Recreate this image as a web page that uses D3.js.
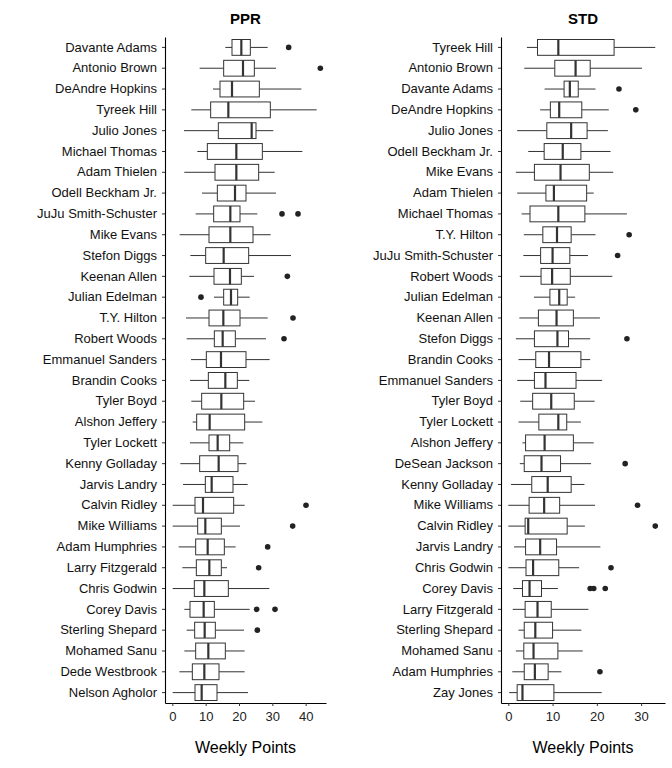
<!DOCTYPE html>
<html><head><meta charset="utf-8">
<script src="https://cdn.jsdelivr.net/npm/d3@7"></script>
<style>body{margin:0;background:#fff}text{font-family:"Liberation Sans",Arial,sans-serif}</style>
</head><body><svg id="c" width="672" height="768"></svg>
<script>
// [name, min whisker, q1, median, q3, max whisker, outliers]
const pprPlayers = ["Davante Adams","Antonio Brown","DeAndre Hopkins","Tyreek Hill","Julio Jones","Michael Thomas","Adam Thielen","Odell Beckham Jr.","JuJu Smith-Schuster","Mike Evans","Stefon Diggs","Keenan Allen","Julian Edelman","T.Y. Hilton","Robert Woods","Emmanuel Sanders","Brandin Cooks","Tyler Boyd","Alshon Jeffery","Tyler Lockett","Kenny Golladay","Jarvis Landry","Calvin Ridley","Mike Williams","Adam Humphries","Larry Fitzgerald","Chris Godwin","Corey Davis","Sterling Shepard","Mohamed Sanu","Dede Westbrook","Nelson Agholor"];
const pprStats = [
[15.9,17.9,20.7,23.4,28.6],[8.2,15.4,21.2,24.6,31.1],[12.2,14.3,17.9,26.1,38.7],[5.7,11.5,16.8,29.4,43.3],
[3.5,13.8,23.8,25.1,30.3],[7.5,10.5,19.2,27.0,39.0],[3.6,12.8,19.2,25.9,30.7],[8.9,13.5,18.8,22.1,31.1],
[7.0,12.4,17.4,20.3,25.5],[2.2,11.0,17.4,24.2,29.5],[5.4,10.0,15.4,22.9,35.6],[5.1,12.5,17.3,20.7,24.5],
[12.5,15.4,17.6,19.6,23.2],[4.1,11.0,15.3,20.3,28.6],[4.3,12.6,15.1,18.9,28.1],[5.6,10.2,14.6,22.1,29.2],
[5.3,10.8,15.9,19.5,23.1],[5.7,8.8,14.7,21.4,24.8],[6.1,7.3,11.2,21.7,27.0],[5.3,11.0,13.6,17.2,21.3],
[2.4,8.2,13.9,19.7,22.2],[3.2,9.9,11.8,18.2,22.6],[0.1,6.8,9.2,18.4,21.7],[0.1,7.6,9.9,14.7,20.3],
[1.9,7.0,10.6,15.6,19.0],[3.0,7.2,11.1,14.7,16.4],[0.1,6.6,9.6,16.8,29.1],[3.6,5.3,9.4,12.6,23.2],
[4.3,6.7,9.7,12.9,21.5],[3.6,7.0,10.8,15.9,21.7],[2.1,6.0,9.6,14.0,21.7],[0.1,6.8,8.8,13.4,22.7]];
const pprOutliers = [[34.9],[44.4],[],[],[],[],[],[],[32.9,37.7],[],[],[34.5],[8.6],[36.2],[33.5],[],[],[],[],[],[],[],[40.1],[36.1],[28.6],[25.9],[],[25.3,30.8],[25.5],[],[],[]];

const stdPlayers = ["Tyreek Hill","Antonio Brown","Davante Adams","DeAndre Hopkins","Julio Jones","Odell Beckham Jr.","Mike Evans","Adam Thielen","Michael Thomas","T.Y. Hilton","JuJu Smith-Schuster","Robert Woods","Julian Edelman","Keenan Allen","Stefon Diggs","Brandin Cooks","Emmanuel Sanders","Tyler Boyd","Tyler Lockett","Alshon Jeffery","DeSean Jackson","Kenny Golladay","Mike Williams","Calvin Ridley","Jarvis Landry","Chris Godwin","Corey Davis","Larry Fitzgerald","Sterling Shepard","Mohamed Sanu","Adam Humphries","Zay Jones"];
const stdStats = [
[4.2,6.6,11.3,23.9,33.2],[3.6,10.5,15.2,18.5,30.2],[8.2,12.6,13.9,15.8,19.7],[7.2,9.5,11.5,16.6,22.7],
[2.0,8.7,14.2,17.8,22.5],[4.5,8.1,12.3,16.4,23.1],[1.7,5.9,11.8,18.3,23.7],[2.0,8.5,10.3,17.7,19.3],
[3.0,4.9,11.3,17.3,26.8],[3.5,7.8,11.0,14.2,19.7],[3.4,7.3,10.0,13.9,18.0],[2.6,7.4,9.9,14.0,23.5],
[5.8,9.4,11.5,13.3,15.1],[2.5,6.8,10.9,14.7,20.7],[1.7,5.9,11.1,13.6,18.5],[2.3,6.2,9.2,16.4,18.5],
[2.0,5.9,8.4,15.3,21.2],[2.7,5.5,9.7,14.9,19.5],[2.3,6.9,11.3,13.2,16.4],[3.2,3.9,8.2,14.7,19.3],
[2.6,3.6,7.5,11.8,18.7],[0.6,5.3,8.9,14.2,17.2],[0.0,4.7,8.1,11.6,19.6],[0.0,3.8,4.5,13.3,17.3],
[1.3,3.9,7.2,10.9,20.8],[0.0,4.0,5.6,11.4,16.0],[1.1,3.2,4.8,7.5,11.2],[1.0,3.8,6.6,9.7,18.1],
[2.3,3.6,6.1,10.0,16.5],[1.7,3.5,5.7,11.2,16.8],[0.9,3.6,6.0,9.0,12.0],[0.2,2.0,3.2,10.3,21.1]];
const stdOutliers = [[],[],[25.0],[28.8],[],[],[],[],[],[27.3],[24.7],[],[],[],[26.8],[],[],[],[],[],[26.4],[],[29.2],[33.2],[],[23.2],[18.5,19.3,21.9],[],[],[],[20.7],[]];

const xTicks = {ppr:[0,10,20,30,40], std:[0,10,20,30]};

const svg = d3.select("#c");
function panel(title, players, stats, outs, x0, x1, domain, ticks){
  const x = d3.scaleLinear().domain(domain).range([x0,x1]);
  const y = d3.scaleBand().domain(players).range([37,703]).paddingInner(0.24).paddingOuter(0.12);
  const g = svg.append("g");
  g.append("g").attr("transform",`translate(${x0},0)`).call(d3.axisLeft(y).tickSize(3).tickSizeOuter(0))
    .call(a=>{a.select(".domain").attr("stroke","#000").attr("stroke-width",1.1);a.selectAll("text").attr("font-size",13).attr("fill","#111").attr("dx",-2);a.selectAll("line").attr("stroke","#333");});
  g.append("g").attr("transform",`translate(0,703)`).call(d3.axisBottom(x).tickValues(ticks).tickSize(3).tickSizeOuter(0))
    .call(a=>{a.select(".domain").attr("stroke","#000").attr("stroke-width",1.1);a.selectAll("text").attr("font-size",13).attr("fill","#222").attr("dy","0.9em");a.selectAll("line").attr("stroke","#333");});
  g.append("text").attr("x",(x0+x1)/2).attr("y",24).attr("text-anchor","middle").attr("font-weight","bold").attr("font-size",15).text(title);
  g.append("text").attr("x",(x0+x1)/2).attr("y",753).attr("text-anchor","middle").attr("font-size",16).text("Weekly Points");
  players.forEach((p,i)=>{
    const s = stats[i], yc = y(p)+y.bandwidth()/2, h=y.bandwidth();
    const row = g.append("g").attr("stroke","#333").attr("stroke-width",1);
    row.append("line").attr("x1",x(s[0])).attr("x2",x(s[1])).attr("y1",yc).attr("y2",yc);
    row.append("line").attr("x1",x(s[3])).attr("x2",x(s[4])).attr("y1",yc).attr("y2",yc);
    row.append("rect").attr("x",x(s[1])).attr("width",x(s[3])-x(s[1])).attr("y",y(p)).attr("height",h).attr("fill","#fff");
    row.append("line").attr("x1",x(s[2])).attr("x2",x(s[2])).attr("y1",y(p)).attr("y2",y(p)+h).attr("stroke-width",2.2);
    outs[i].forEach(o=>g.append("circle").attr("cx",x(o)).attr("cy",yc).attr("r",2.8).attr("fill","#222"));
  });
}
panel("PPR", pprPlayers, pprStats, pprOutliers, 165, 326, [-2.2,46.1], xTicks.ppr);
panel("STD", stdPlayers, stdStats, stdOutliers, 501, 665, [-1.65,35.4], xTicks.std);
</script></body></html>
